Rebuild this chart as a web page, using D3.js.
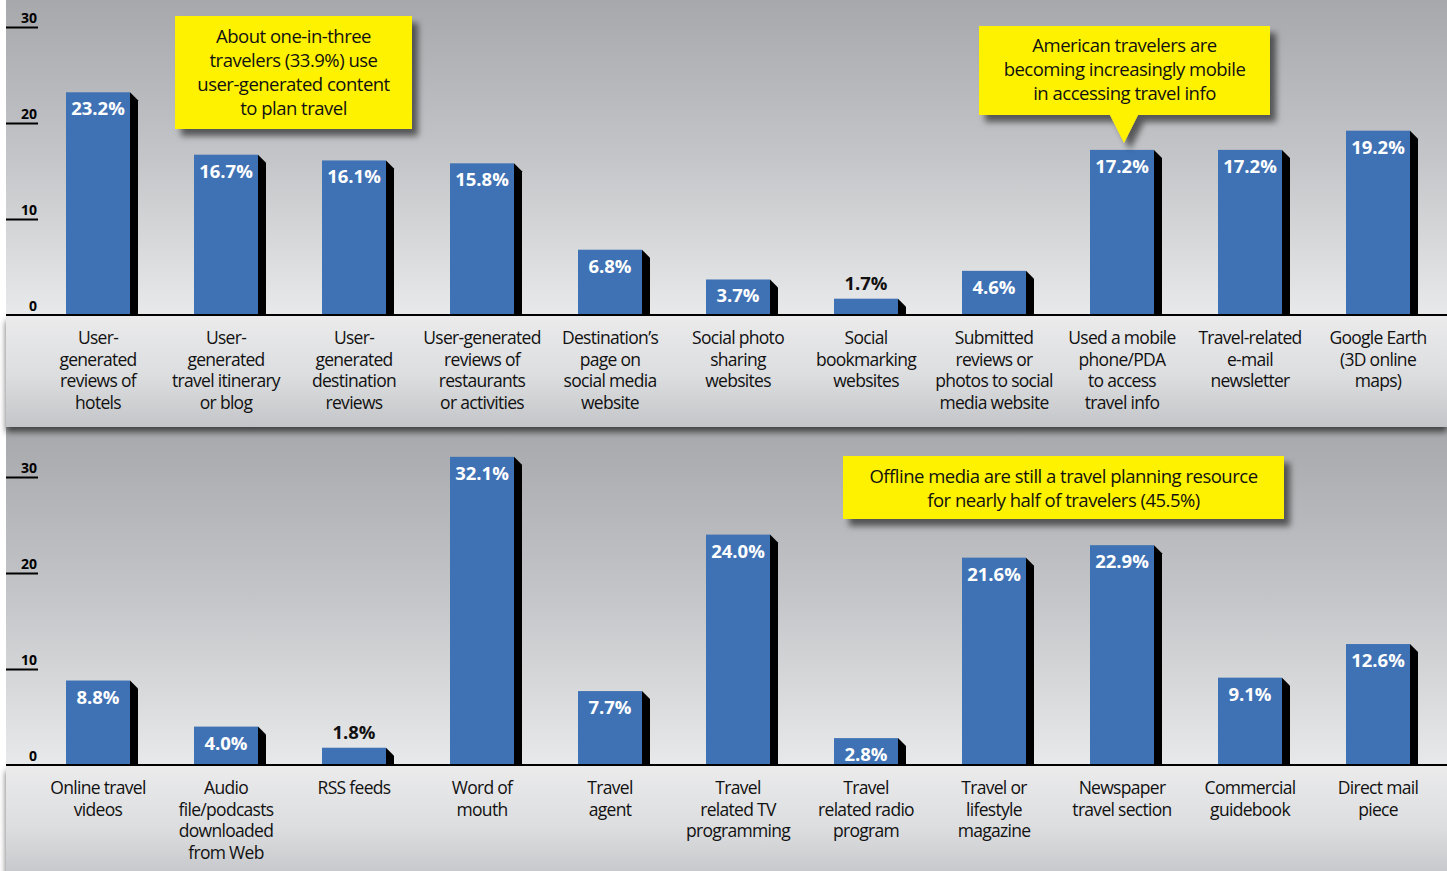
<!DOCTYPE html>
<html><head><meta charset="utf-8">
<script src="https://cdn.jsdelivr.net/npm/d3@7"></script>
<style>
html,body{margin:0;padding:0;background:#fff;}
svg{display:block;}
text{font-family:"Open Sans",sans-serif;}
</style></head>
<body>
<svg id="chart" width="1447" height="871"></svg>
<script>
const topCategories = [
  ["User-","generated","reviews of","hotels"],
  ["User-","generated","travel itinerary","or blog"],
  ["User-","generated","destination","reviews"],
  ["User-generated","reviews of","restaurants","or activities"],
  ["Destination’s","page on","social media","website"],
  ["Social photo","sharing","websites"],
  ["Social","bookmarking","websites"],
  ["Submitted","reviews or","photos to social","media website"],
  ["Used a mobile","phone/PDA","to access","travel info"],
  ["Travel-related","e-mail","newsletter"],
  ["Google Earth","(3D online","maps)"]
];
const topValues = [23.2, 16.7, 16.1, 15.8, 6.8, 3.7, 1.7, 4.6, 17.2, 17.2, 19.2];

const bottomCategories = [
  ["Online travel","videos"],
  ["Audio","file/podcasts","downloaded","from Web"],
  ["RSS feeds"],
  ["Word of","mouth"],
  ["Travel","agent"],
  ["Travel","related TV","programming"],
  ["Travel","related radio","program"],
  ["Travel or","lifestyle","magazine"],
  ["Newspaper","travel section"],
  ["Commercial","guidebook"],
  ["Direct mail","piece"]
];
const bottomValues = [8.8, 4.0, 1.8, 32.1, 7.7, 24.0, 2.8, 21.6, 22.9, 9.1, 12.6];

const tickValues = [0, 10, 20, 30];

const callout1 = ["About one-in-three","travelers (33.9%) use","user-generated content","to plan travel"];
const callout2 = ["American travelers are","becoming increasingly mobile","in accessing travel info"];
const callout3 = ["Offline media are still a travel planning resource","for nearly half of travelers (45.5%)"];

const W = 1447, H = 871;
const svg = d3.select("#chart");
const defs = svg.append("defs");

function vgrad(id, stops){
  const g = defs.append("linearGradient").attr("id", id).attr("x1",0).attr("y1",0).attr("x2",0).attr("y2",1);
  stops.forEach(s => g.append("stop").attr("offset", s[0]).attr("stop-color", s[1]));
}
vgrad("panelGrad", [[0,"#a6a8ab"],[0.5,"#c4c5c8"],[1,"#e8e9ea"]]);
vgrad("bandGrad", [[0,"#ebebec"],[0.55,"#dcdddf"],[1,"#c4c5c8"]]);

const sh = defs.append("filter").attr("id","shadow").attr("x","-10%").attr("y","-10%").attr("width","130%").attr("height","140%");
sh.append("feDropShadow").attr("dx",6).attr("dy",7).attr("stdDeviation",3).attr("flood-color","#000").attr("flood-opacity",0.55);
const bsh = defs.append("filter").attr("id","bandShadow").attr("x","-5%").attr("y","-10%").attr("width","110%").attr("height","130%");
bsh.append("feDropShadow").attr("dx",0).attr("dy",5).attr("stdDeviation",3).attr("flood-color","#000").attr("flood-opacity",0.6);

svg.append("rect").attr("x",0).attr("y",0).attr("width",W).attr("height",H).attr("fill","#fff");

function drawPanel(cfg){
  const g = svg.append("g");
  const y = d3.scaleLinear().domain([0,30]).range([cfg.baseline, cfg.baseline - 288]);
  const x = d3.scaleBand().domain(cfg.categories.map((d,i)=>i)).range([34, 1442]).paddingInner(0.5).paddingOuter(0.25);

  g.append("rect").attr("x",6).attr("y",cfg.bgTop).attr("width",W-6).attr("height",cfg.baseline-cfg.bgTop).attr("fill","url(#panelGrad)");

  const axis = d3.axisLeft(y).tickValues(tickValues).tickSize(32).tickFormat(d3.format("d"));
  const ag = g.append("g").attr("transform",`translate(38,0)`).call(axis);
  ag.select(".domain").remove();
  ag.selectAll(".tick line").attr("stroke","#000").attr("stroke-width",2);
  ag.selectAll(".tick text").attr("x",-1).attr("dy",-5).attr("text-anchor","end")
    .attr("font-size",14).attr("font-weight",700).attr("fill","#000").attr("font-family","Open Sans");

  const vals = cfg.values;
  const bars = g.selectAll(".bar").data(vals).enter().append("g");
  bars.append("path").attr("fill","#000").attr("d",(d,i)=>{
    const x1 = x(i) + x.bandwidth(), t = y(d), b = y(0);
    return `M${x1},${t}L${x1+8},${Math.min(t+8,b)}L${x1+8},${b}L${x1},${b}Z`;
  });
  bars.append("rect").attr("x",(d,i)=>x(i)).attr("y",d=>y(d)).attr("width",x.bandwidth()).attr("height",d=>y(0)-y(d)).attr("fill","#3f72b5");
  bars.append("text")
    .attr("x",(d,i)=>x(i)+x.bandwidth()/2)
    .attr("y",d=> (y(0)-y(d) > 24) ? y(d)+23 : y(d)-9)
    .attr("text-anchor","middle").attr("font-size",18.5).attr("font-weight",700)
    .attr("fill",d=> (y(0)-y(d) > 24) ? "#fff" : "#111")
    .text(d=>d.toFixed(1)+"%");

  g.append("rect").attr("x",6).attr("y",cfg.baseline+1).attr("width",W-6).attr("height",cfg.bandBottom-cfg.baseline-1)
    .attr("fill","url(#bandGrad)").attr("filter","url(#bandShadow)");
  g.append("line").attr("x1",6).attr("x2",W).attr("y1",cfg.baseline).attr("y2",cfg.baseline).attr("stroke","#000").attr("stroke-width",2);

  const lab = g.selectAll(".lab").data(cfg.categories).enter().append("text")
    .attr("text-anchor","middle").attr("font-size",17.5).attr("fill","#111").attr("letter-spacing","-0.7");
  lab.each(function(lines,i){
    const t = d3.select(this);
    lines.forEach((ln,k)=>{
      t.append("tspan").attr("x", x(i)+x.bandwidth()/2).attr("y", cfg.baseline + 29 + k*21.5).text(ln);
    });
  });
  return {x,y};
}

svg.append("rect").attr("x",6).attr("y",420).attr("width",W-6).attr("height",20).attr("fill","#a6a8ab");

const bottomPanel = drawPanel({categories: bottomCategories, values: bottomValues, baseline: 765, bgTop: 427, bandBottom: 880});
const topPanel = drawPanel({categories: topCategories, values: topValues, baseline: 315, bgTop: 0, bandBottom: 427});

function callout(lines, x0, y0, w, h, lineY0, lh, pointer){
  const g = svg.append("g").attr("filter","url(#shadow)");
  if(pointer){
    g.append("path").attr("fill","#fff200")
      .attr("d",`M${x0},${y0}H${x0+w}V${y0+h}H${pointer[1]}L${pointer[0]},${pointer[2]}L${pointer[3]},${y0+h}H${x0}Z`);
  } else {
    g.append("rect").attr("x",x0).attr("y",y0).attr("width",w).attr("height",h).attr("fill","#fff200");
  }
  const t = svg.append("text").attr("text-anchor","middle").attr("font-size",18.5).attr("fill","#111").attr("letter-spacing","-0.5");
  lines.forEach((ln,k)=>t.append("tspan").attr("x",x0+w/2).attr("y",lineY0+k*lh).text(ln));
}
callout(callout1, 175, 16, 237, 113, 43, 24, null);
callout(callout2, 979, 26, 291, 89, 52, 24, [1124, 1138, 143, 1110]);
callout(callout3, 843, 456, 441, 63, 483, 24, null);
</script>
</body></html>
